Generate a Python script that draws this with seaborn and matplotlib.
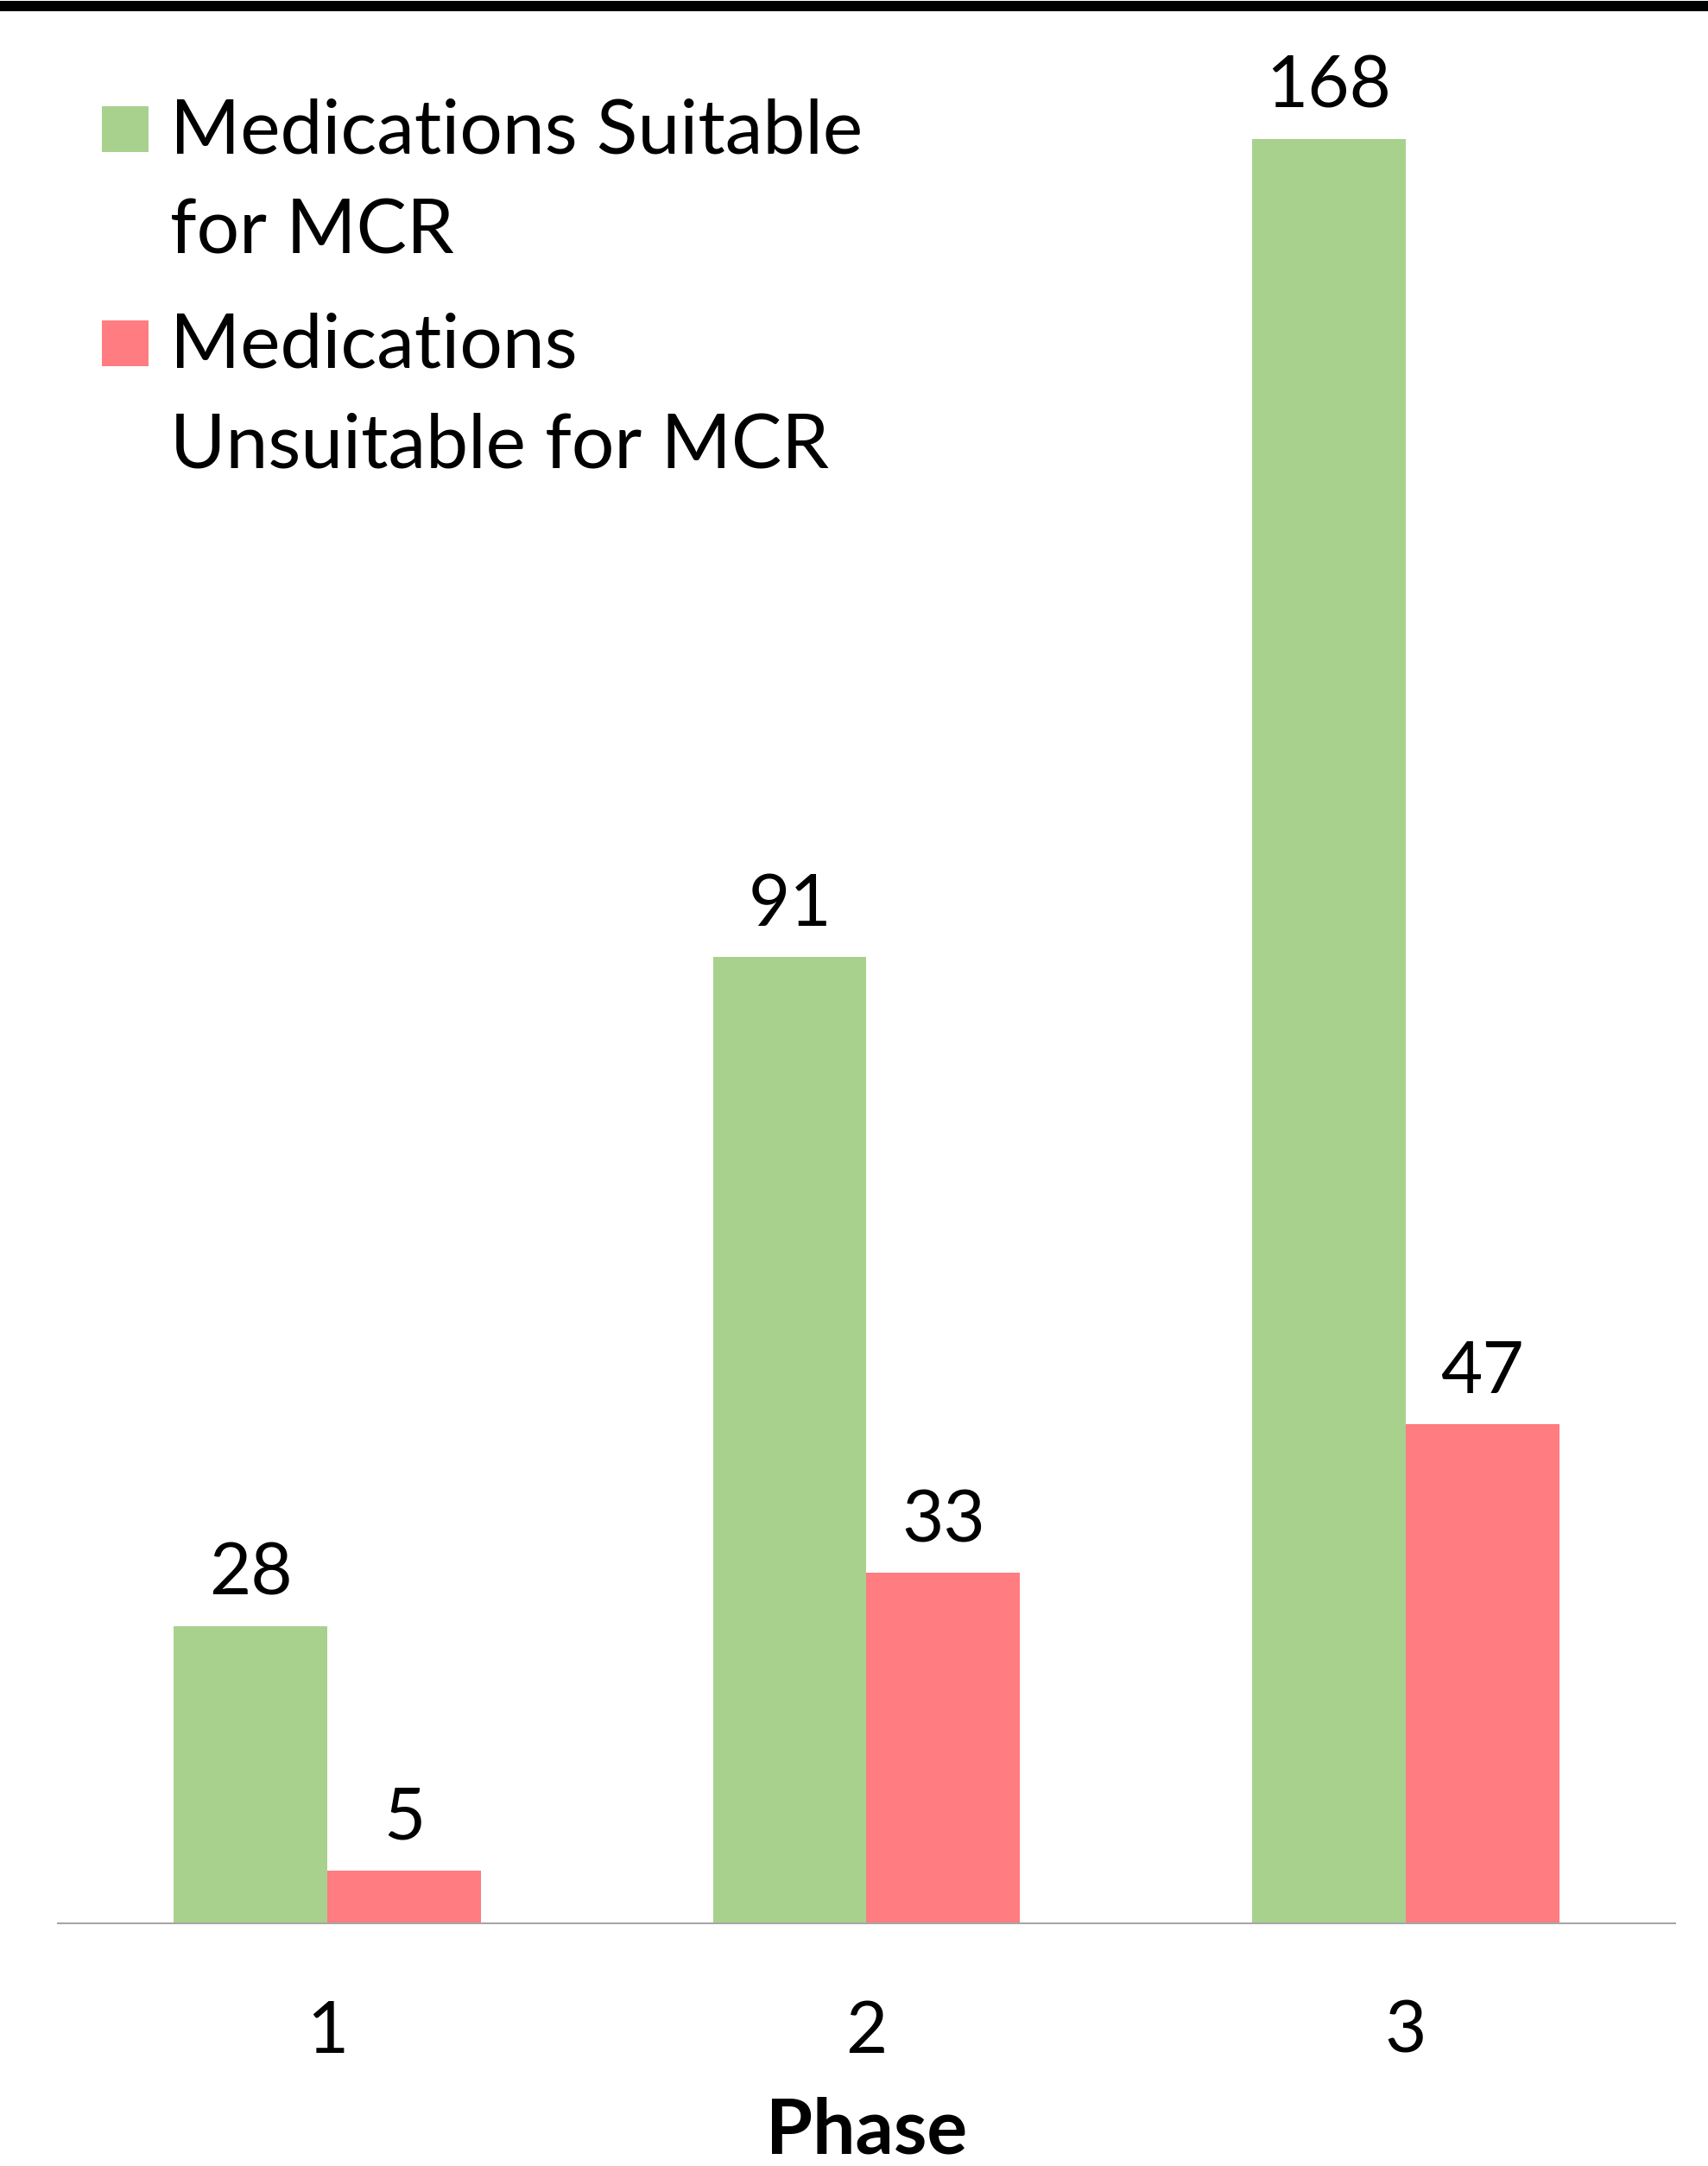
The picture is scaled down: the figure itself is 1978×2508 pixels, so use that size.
import pandas as pd
import numpy as np
import matplotlib.pyplot as plt
import seaborn as sns
from matplotlib.patches import Rectangle

phases = ['1', '2', '3']
suitable = [28, 91, 168]
unsuitable = [5, 33, 47]
series_names = ['Medications Suitable\nfor MCR', 'Medications\nUnsuitable for MCR']
colors = ['#A9D18E', '#FF7C80']

df = pd.DataFrame({
    'Phase': phases * 2,
    'Group': [series_names[0]] * len(phases) + [series_names[1]] * len(phases),
    'Count': suitable + unsuitable,
})

sns.set_style('white')
plt.rcParams['font.family'] = ['Lato', 'DejaVu Sans']
plt.rcParams['text.color'] = 'black'
plt.rcParams['axes.labelcolor'] = 'black'
plt.rcParams['xtick.color'] = 'black'

W, H = 1978, 2508
fig = plt.figure(figsize=(W / 100, H / 100), dpi=100)
ax = fig.add_axes([67 / W, 1 - 2227 / H, 1873 / W, 2214 / H])

sns.barplot(data=df, x='Phase', y='Count', hue='Group', order=phases,
            hue_order=series_names, palette=colors, width=0.57,
            linewidth=0, saturation=1, legend=False, ax=ax)

fs = 60      # digits
fs_txt = 63  # words
for c in ax.containers:
    ax.bar_label(c, padding=15, fontsize=fs, color='black')

ax.set_xlim(-0.5, 2.5)
ax.set_ylim(0, 180)
ax.set_yticks([])
ax.set_ylabel('')
ax.tick_params(axis='x', length=0, labelsize=fs, pad=64, labelcolor='black')
ax.set_xlabel('Phase', fontsize=fs_txt, fontweight='bold', labelpad=26, color='black')
for s in ['left', 'right', 'top']:
    ax.spines[s].set_visible(False)
ax.spines['bottom'].set_color('#A6A6A6')
ax.spines['bottom'].set_linewidth(1.5)

# black band along the top edge
fig.add_artist(Rectangle((0, 1 - 13 / H), 1, 12 / H, transform=fig.transFigure,
                         color='black', lw=0))

# legend, handle level with the first line of each label
tops = [123, 371]
for name, col, top in zip(series_names, colors, tops):
    fig.add_artist(Rectangle((118 / W, 1 - (top + 53) / H), 54 / W, 53 / H,
                             transform=fig.transFigure, color=col, lw=0))
    for i, line in enumerate(name.split('\n')):
        fig.text(197 / W, 1 - (top + 54 + i * 116) / H, line, fontsize=fs_txt,
                 va='baseline', ha='left', color='black')

fig.savefig('out.png', dpi=100)
